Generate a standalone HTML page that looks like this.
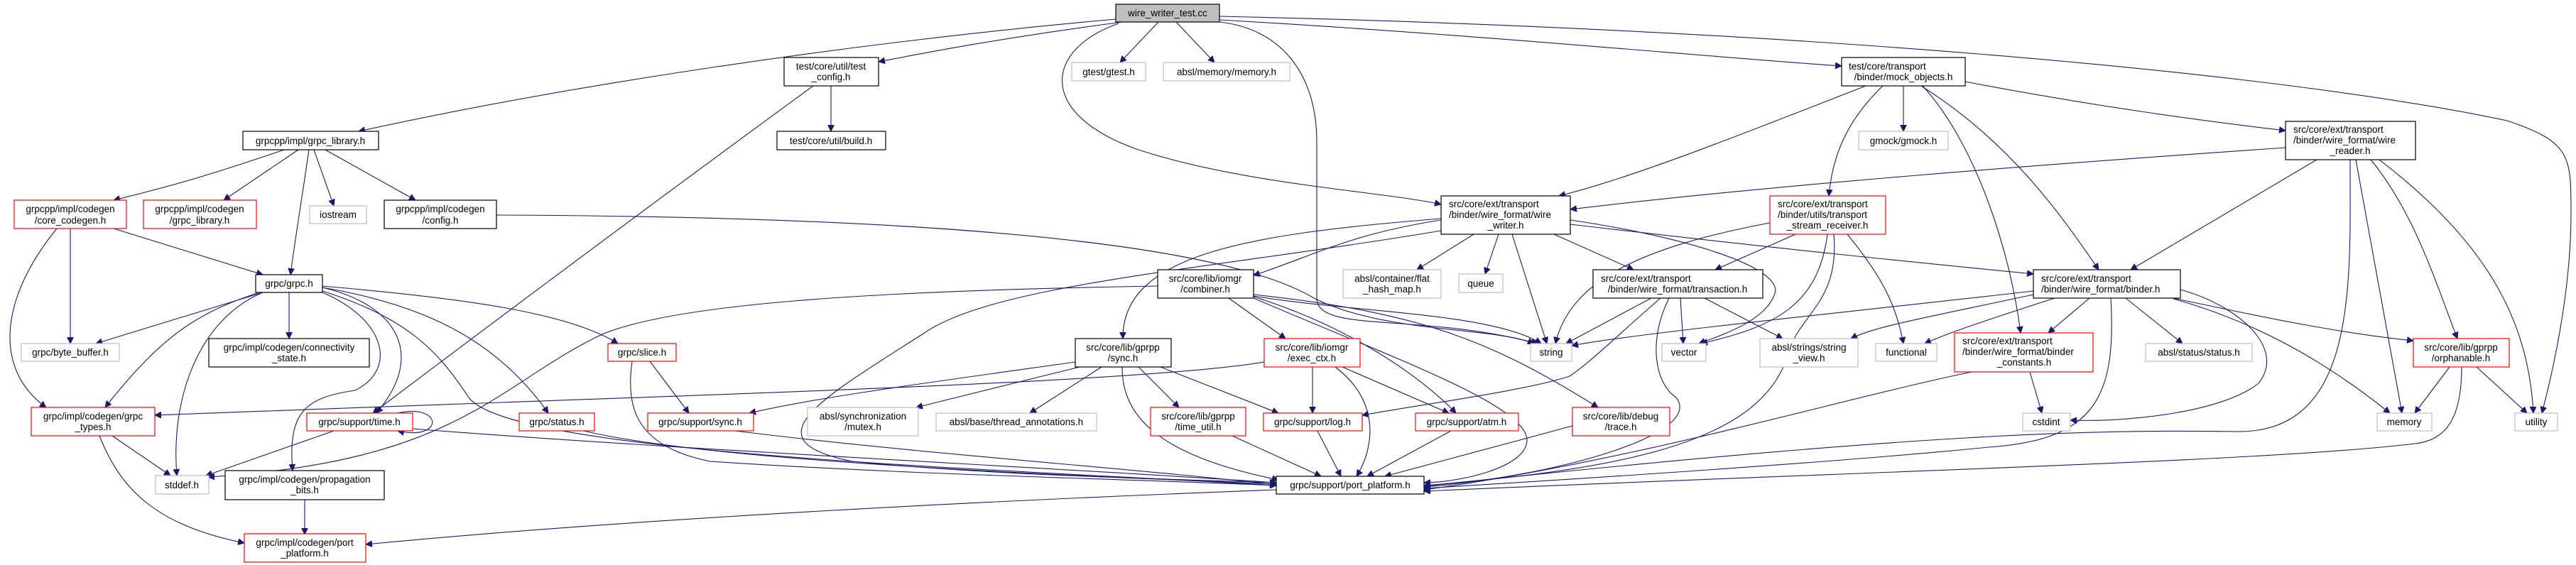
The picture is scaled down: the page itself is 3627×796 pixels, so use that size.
<!DOCTYPE html>
<html><head><meta charset="utf-8"><style>
html,body{margin:0;padding:0;background:#fff;}
svg{display:block;}
text{font-family:"Liberation Sans","DejaVu Sans",sans-serif;font-size:13.5px;fill:#000;}
.e{fill:none;stroke:#191970;stroke-width:1.1;}
.k{fill:#fff;stroke:#000;stroke-width:1.2;}
.r{fill:#fff;stroke:#f00;stroke-width:1.2;}
.g{fill:#fff;stroke:#bfbfbf;stroke-width:1.2;}
</style></head><body>
<svg width="3627" height="796" viewBox="0 0 3627 796" xmlns="http://www.w3.org/2000/svg">
<defs><marker id="a" viewBox="0 0 10 10" refX="10" refY="5" markerWidth="9" markerHeight="9" markerUnits="userSpaceOnUse" orient="auto"><path d="M0,0 L10,5 L0,10 z" fill="#191970" stroke="#191970"/></marker></defs>
<g class="e" marker-end="url(#a)">
<path d="M1571,27 C1200,60 800,120 505,185"/>
<path d="M1580,31 C1400,55 1300,75 1237,87"/>
<path d="M1631,31 L1577,88"/>
<path d="M1656,31 L1710,88"/>
<path d="M1575,33 C1470,70 1460,160 1600,210 C1750,260 1950,270 2029,288"/>
<path d="M1717,31 C1800,40 1854,100 1854,200 L1854,420 C1854,470 2000,440 2165,484"/>
<path d="M1717,28 C2100,50 2400,80 2593,93"/>
<path d="M1717,23 C2500,40 3200,100 3530,170 C3620,200 3620,220 3620,300 C3620,420 3590,540 3579,582"/>
<path d="M1170,121 L1170,185"/>
<path d="M1145,121 C900,300 700,450 525,582"/>
<path d="M400,211 C300,245 250,260 160,282"/>
<path d="M420,211 L315,282"/>
<path d="M435,211 C425,280 415,340 409,387"/>
<path d="M442,211 L470,290"/>
<path d="M458,211 L585,282"/>
<path d="M699,303 C1200,305 1700,330 1850,420 C1950,470 2100,460 2160,484"/>
<path d="M160,322 L370,387"/>
<path d="M99,322 L99,484"/>
<path d="M80,322 C0,420 -10,520 65,574"/>
<path d="M370,412 L135,484"/>
<path d="M407,412 L407,477"/>
<path d="M365,412 C280,440 230,470 148,574"/>
<path d="M370,412 C280,450 240,560 249,670"/>
<path d="M454,412 C543,450 560,520 500,550 C430,560 405,580 412,663"/>
<path d="M454,405 C560,430 600,500 530,582"/>
<path d="M454,405 C600,430 700,480 772,582"/>
<path d="M454,403 C650,420 800,440 870,484"/>
<path d="M454,410 C580,450 620,500 660,560 C720,640 1400,660 1797,684"/>
<path d="M915,509 L970,582"/>
<path d="M890,509 C880,580 900,630 1000,650 C1300,670 1600,675 1797,684"/>
<path d="M560,582 C625,568 625,622 560,607"/>
<path d="M470,607 L290,670"/>
<path d="M581,604 C900,630 1500,660 1797,680"/>
<path d="M822,607 C1000,650 1500,670 1797,682"/>
<path d="M158,614 L240,670"/>
<path d="M140,614 C170,690 220,740 344,765"/>
<path d="M429,704 L429,753"/>
<path d="M1797,690 C1400,705 900,730 515,767"/>
<path d="M1035,607 C1300,640 1600,660 1797,683"/>
<path d="M2029,310 C1900,330 1850,360 1765,388"/>
<path d="M2029,308 C1750,330 1580,360 1581,477"/>
<path d="M2075,330 L1995,380"/>
<path d="M2110,330 L2091,386"/>
<path d="M2129,330 L2178,484"/>
<path d="M2188,330 L2300,380"/>
<path d="M2211,310 C2350,330 2500,370 2500,410 C2490,450 2430,470 2392,484"/>
<path d="M2211,316 C2500,350 2700,370 2863,386"/>
<path d="M2029,325 C1700,380 1400,400 1300,470 C1160,560 1050,620 1200,650 C1400,670 1650,675 1797,680"/>
<path d="M1730,420 L1810,477"/>
<path d="M1630,403 C1200,410 950,430 850,470 C700,540 650,650 293,672"/>
<path d="M1765,417 C1900,440 2100,440 2170,484"/>
<path d="M1765,418 C1900,460 2000,530 2050,582"/>
<path d="M1765,420 C1950,500 2150,570 2150,620 C2150,660 2050,680 2005,680"/>
<path d="M1765,415 C2000,440 2100,480 2250,574"/>
<path d="M1514,510 C1300,540 1150,560 1055,582"/>
<path d="M1520,517 L1290,574"/>
<path d="M1551,517 L1450,582"/>
<path d="M1603,517 L1660,574"/>
<path d="M1634,517 L1800,582"/>
<path d="M1580,517 C1580,580 1620,640 1800,676"/>
<path d="M1848,517 L1848,582"/>
<path d="M1890,517 L2040,582"/>
<path d="M1880,517 C1950,570 1930,640 1910,671"/>
<path d="M1780,510 C1600,540 1000,555 218,585"/>
<path d="M1735,614 L1860,671"/>
<path d="M1855,607 L1888,671"/>
<path d="M2043,607 L1925,671"/>
<path d="M2214,600 C2100,630 1990,660 1950,671"/>
<path d="M2627,121 C2450,190 2300,250 2195,276"/>
<path d="M2651,121 C2600,170 2580,220 2575,276"/>
<path d="M2680,121 L2680,185"/>
<path d="M2705,121 C2830,200 2900,300 2955,380"/>
<path d="M2707,121 C2780,200 2830,350 2845,469"/>
<path d="M2767,115 C2950,150 3100,170 3218,184"/>
<path d="M3218,208 C2900,230 2500,260 2211,295"/>
<path d="M3262,225 L3000,380"/>
<path d="M3309,225 C3309,400 3320,610 3150,608 C2950,605 2700,610 2005,685"/>
<path d="M3317,225 L3382,582"/>
<path d="M3338,225 C3400,300 3430,400 3460,477"/>
<path d="M3350,225 C3500,340 3560,450 3567,582"/>
<path d="M2492,314 C2300,350 2210,400 2190,484"/>
<path d="M2528,330 L2415,380"/>
<path d="M2573,330 C2560,430 2500,460 2395,484"/>
<path d="M2601,330 C2650,390 2670,430 2680,484"/>
<path d="M2582,330 C2590,420 2540,440 2520,490 C2490,620 2300,660 2005,684"/>
<path d="M2325,420 L2205,484"/>
<path d="M2338,420 C2280,470 2240,510 2210,530 C2150,550 2000,570 1918,585"/>
<path d="M2350,420 C2320,480 2330,540 2360,560 C2400,610 2200,670 2005,686"/>
<path d="M2366,420 L2370,484"/>
<path d="M2400,420 L2510,477"/>
<path d="M2863,410 C2600,440 2300,470 2213,487"/>
<path d="M2863,415 C2700,450 2640,460 2606,477"/>
<path d="M2893,420 C2800,450 2740,470 2710,484"/>
<path d="M2942,420 L2884,469"/>
<path d="M2993,420 L3073,484"/>
<path d="M3060,420 C3200,450 3300,470 3398,480"/>
<path d="M3060,421 C3200,460 3300,530 3365,582"/>
<path d="M3070,408 C3150,430 3220,490 3180,540 C3130,580 3000,595 2915,592"/>
<path d="M2972,420 C2980,560 2950,620 2800,630 C2600,650 2300,670 2005,688"/>
<path d="M2776,524 C2600,560 2300,650 2005,690"/>
<path d="M2858,524 L2875,582"/>
<path d="M3449,517 L3400,582"/>
<path d="M3487,517 L3558,582"/>
<path d="M3466,517 C3466,580 3450,620 3400,625 C3200,650 2600,665 2005,692"/>
</g>
<!-- nodes -->
<rect x="1571" y="6" width="146" height="25" fill="#bfbfbf" stroke="#000" stroke-width="1.2"/><text x="1644" y="23" text-anchor="middle">wire_writer_test.cc</text>
<rect class="k" x="342" y="185" width="191" height="26"/><text x="437" y="203" text-anchor="middle">grpcpp/impl/grpc_library.h</text>
<rect class="r" x="20" y="282" width="158" height="40"/><text x="99" y="299" text-anchor="middle">grpcpp/impl/codegen</text><text x="99" y="315" text-anchor="middle">/core_codegen.h</text>
<rect class="r" x="202" y="282" width="159" height="40"/><text x="281" y="299" text-anchor="middle">grpcpp/impl/codegen</text><text x="281" y="315" text-anchor="middle">/grpc_library.h</text>
<rect class="g" x="436" y="290" width="80" height="25"/><text x="476" y="307" text-anchor="middle">iostream</text>
<rect class="k" x="541" y="282" width="158" height="40"/><text x="620" y="299" text-anchor="middle">grpcpp/impl/codegen</text><text x="620" y="315" text-anchor="middle">/config.h</text>
<rect class="k" x="360" y="387" width="94" height="25"/><text x="407" y="404" text-anchor="middle">grpc/grpc.h</text>
<rect class="g" x="30" y="484" width="138" height="25"/><text x="99" y="501" text-anchor="middle">grpc/byte_buffer.h</text>
<rect class="k" x="294" y="477" width="226" height="40"/><text x="407" y="494" text-anchor="middle">grpc/impl/codegen/connectivity</text><text x="407" y="509" text-anchor="middle">_state.h</text>
<rect class="r" x="44" y="574" width="174" height="40"/><text x="131" y="591" text-anchor="middle">grpc/impl/codegen/grpc</text><text x="131" y="606" text-anchor="middle">_types.h</text>
<rect class="r" x="432" y="582" width="149" height="25"/><text x="506" y="599" text-anchor="middle">grpc/support/time.h</text>
<rect class="r" x="731" y="582" width="106" height="25"/><text x="784" y="599" text-anchor="middle">grpc/status.h</text>
<rect class="g" x="219" y="670" width="75" height="26"/><text x="256" y="688" text-anchor="middle">stddef.h</text>
<rect class="k" x="317" y="663" width="224" height="41"/><text x="429" y="680" text-anchor="middle">grpc/impl/codegen/propagation</text><text x="429" y="695" text-anchor="middle">_bits.h</text>
<rect class="r" x="344" y="752" width="171" height="40"/><text x="429" y="769" text-anchor="middle">grpc/impl/codegen/port</text><text x="429" y="784" text-anchor="middle">_platform.h</text>
<rect class="r" x="856" y="484" width="96" height="25"/><text x="904" y="501" text-anchor="middle">grpc/slice.h</text>
<rect class="k" x="1104" y="81" width="133" height="40"/><text x="1170" y="98" text-anchor="middle">test/core/util/test</text><text x="1170" y="113" text-anchor="middle">_config.h</text>
<rect class="k" x="1094" y="185" width="153" height="26"/><text x="1170" y="203" text-anchor="middle">test/core/util/build.h</text>
<rect class="g" x="1509" y="88" width="104" height="26"/><text x="1561" y="106" text-anchor="middle">gtest/gtest.h</text>
<rect class="g" x="1638" y="88" width="178" height="26"/><text x="1727" y="106" text-anchor="middle">absl/memory/memory.h</text>
<rect class="k" x="1630" y="380" width="135" height="40"/><text x="1697" y="397" text-anchor="middle">src/core/lib/iomgr</text><text x="1697" y="412" text-anchor="middle">/combiner.h</text>
<rect class="k" x="1514" y="477" width="135" height="40"/><text x="1581" y="494" text-anchor="middle">src/core/lib/gprpp</text><text x="1581" y="509" text-anchor="middle">/sync.h</text>
<rect class="r" x="912" y="582" width="149" height="25"/><text x="986" y="599" text-anchor="middle">grpc/support/sync.h</text>
<rect class="g" x="1137" y="574" width="156" height="40"/><text x="1215" y="591" text-anchor="middle">absl/synchronization</text><text x="1215" y="606" text-anchor="middle">/mutex.h</text>
<rect class="g" x="1318" y="582" width="226" height="25"/><text x="1431" y="599" text-anchor="middle">absl/base/thread_annotations.h</text>
<rect class="r" x="1620" y="574" width="134" height="40"/><text x="1687" y="591" text-anchor="middle">src/core/lib/gprpp</text><text x="1687" y="606" text-anchor="middle">/time_util.h</text>
<rect class="r" x="1780" y="477" width="135" height="40"/><text x="1847" y="494" text-anchor="middle">src/core/lib/iomgr</text><text x="1847" y="509" text-anchor="middle">/exec_ctx.h</text>
<rect class="r" x="1779" y="582" width="139" height="25"/><text x="1848" y="599" text-anchor="middle">grpc/support/log.h</text>
<rect class="k" x="1797" y="671" width="208" height="25"/><text x="1901" y="688" text-anchor="middle">grpc/support/port_platform.h</text>
<rect class="k" x="2593" y="81" width="174" height="40"/><text x="2603" y="98">test/core/transport</text><text x="2680" y="113" text-anchor="middle">/binder/mock_objects.h</text>
<rect class="g" x="2617" y="185" width="126" height="26"/><text x="2680" y="203" text-anchor="middle">gmock/gmock.h</text>
<rect class="k" x="2029" y="276" width="182" height="54"/><text x="2040" y="292">src/core/ext/transport</text><text x="2040" y="307">/binder/wire_format/wire</text><text x="2120" y="322" text-anchor="middle">_writer.h</text>
<rect class="r" x="2492" y="276" width="163" height="54"/><text x="2503" y="292">src/core/ext/transport</text><text x="2503" y="307">/binder/utils/transport</text><text x="2573" y="322" text-anchor="middle">_stream_receiver.h</text>
<rect class="g" x="1891" y="380" width="138" height="40"/><text x="1960" y="397" text-anchor="middle">absl/container/flat</text><text x="1960" y="412" text-anchor="middle">_hash_map.h</text>
<rect class="g" x="2054" y="386" width="62" height="26"/><text x="2085" y="404" text-anchor="middle">queue</text>
<rect class="k" x="2243" y="380" width="239" height="40"/><text x="2254" y="397">src/core/ext/transport</text><text x="2362" y="412" text-anchor="middle">/binder/wire_format/transaction.h</text>
<rect class="g" x="2155" y="484" width="58" height="25"/><text x="2184" y="501" text-anchor="middle">string</text>
<rect class="g" x="2340" y="484" width="62" height="25"/><text x="2371" y="501" text-anchor="middle">vector</text>
<rect class="g" x="2478" y="477" width="138" height="40"/><text x="2547" y="494" text-anchor="middle">absl/strings/string</text><text x="2547" y="509" text-anchor="middle">_view.h</text>
<rect class="g" x="2641" y="484" width="86" height="25"/><text x="2684" y="501" text-anchor="middle">functional</text>
<rect class="r" x="1993" y="582" width="145" height="25"/><text x="2065" y="599" text-anchor="middle">grpc/support/atm.h</text>
<rect class="r" x="2214" y="574" width="137" height="40"/><text x="2282" y="591" text-anchor="middle">src/core/lib/debug</text><text x="2282" y="606" text-anchor="middle">/trace.h</text>
<rect class="k" x="3218" y="171" width="183" height="54"/><text x="3229" y="187">src/core/ext/transport</text><text x="3229" y="202">/binder/wire_format/wire</text><text x="3309" y="217" text-anchor="middle">_reader.h</text>
<rect class="k" x="2863" y="380" width="207" height="40"/><text x="2874" y="397">src/core/ext/transport</text><text x="2874" y="412">/binder/wire_format/binder.h</text>
<rect class="r" x="2752" y="469" width="195" height="55"/><text x="2763" y="485">src/core/ext/transport</text><text x="2763" y="500">/binder/wire_format/binder</text><text x="2850" y="515" text-anchor="middle">_constants.h</text>
<rect class="g" x="3021" y="484" width="150" height="25"/><text x="3096" y="501" text-anchor="middle">absl/status/status.h</text>
<rect class="r" x="3398" y="477" width="135" height="40"/><text x="3465" y="494" text-anchor="middle">src/core/lib/gprpp</text><text x="3465" y="509" text-anchor="middle">/orphanable.h</text>
<rect class="g" x="2848" y="582" width="67" height="25"/><text x="2881" y="599" text-anchor="middle">cstdint</text>
<rect class="g" x="3347" y="582" width="77" height="25"/><text x="3385" y="599" text-anchor="middle">memory</text>
<rect class="g" x="3541" y="582" width="60" height="25"/><text x="3571" y="599" text-anchor="middle">utility</text>
</svg>
</body></html>
